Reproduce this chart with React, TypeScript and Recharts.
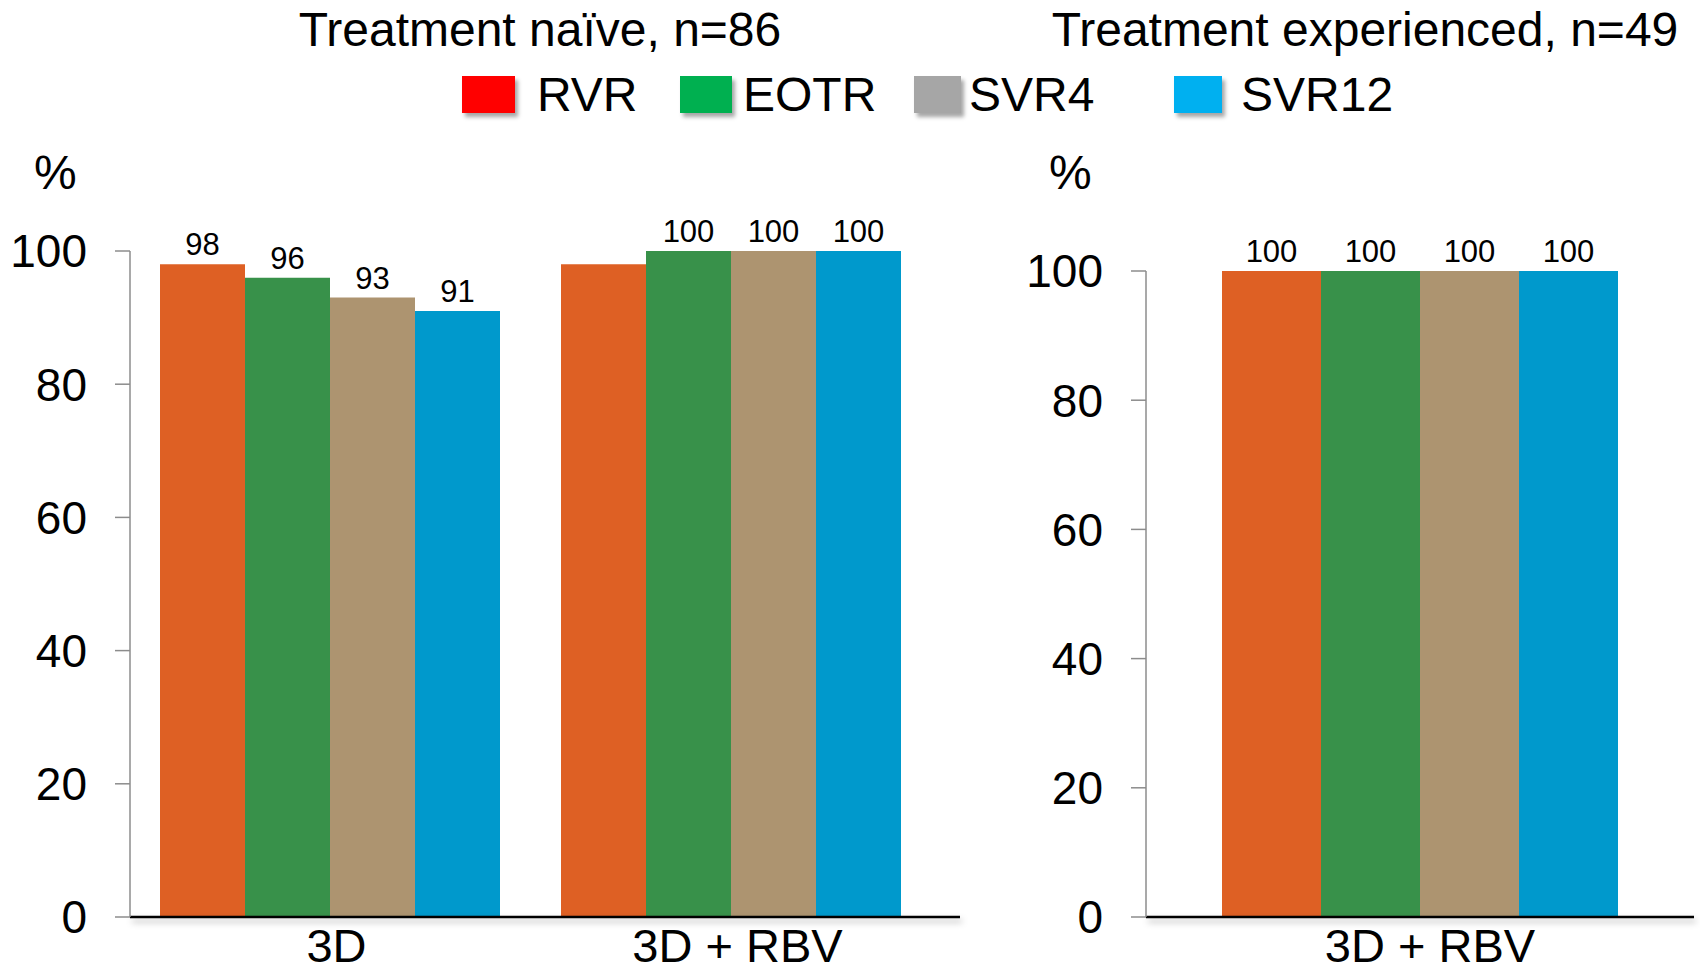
import React from 'react';
import { BarChart, Bar, XAxis, YAxis, LabelList } from 'recharts';

// series shared by both panels
const seriesNames = ['RVR', 'EOTR', 'SVR4', 'SVR12'];
const legendColors = ['#FF0000', '#00B050', '#A6A6A6', '#00B0F0'];
const barColors = ['#DE6024', '#38914A', '#AD9470', '#0099CC'];

// left panel
const naiveTitle = 'Treatment naïve, n=86';
const naiveCategories = ['3D', '3D + RBV'];
const naiveRVR = [98, 98];
const naiveEOTR = [96, 100];
const naiveSVR4 = [93, 100];
const naiveSVR12 = [91, 100];
const naiveRVRLabelShown = [true, false];

// right panel
const expTitle = 'Treatment experienced, n=49';
const expCategories = ['3D + RBV'];
const expRVR = [100];
const expEOTR = [100];
const expSVR4 = [100];
const expSVR12 = [100];

const yTicks = [0, 20, 40, 60, 80, 100];

const FONT = '"Liberation Sans", Arial, sans-serif';

const buildRows = (
  cats: string[],
  rvr: number[],
  eotr: number[],
  svr4: number[],
  svr12: number[],
  rvrShown?: boolean[]
) =>
  cats.map((name, i) => ({
    name,
    RVR: rvr[i],
    EOTR: eotr[i],
    SVR4: svr4[i],
    SVR12: svr12[i],
    RVRLabel: !rvrShown || rvrShown[i] ? rvr[i] : '',
    EOTRLabel: eotr[i],
    SVR4Label: svr4[i],
    SVR12Label: svr12[i],
  }));

const naiveData = buildRows(naiveCategories, naiveRVR, naiveEOTR, naiveSVR4, naiveSVR12, naiveRVRLabelShown);
const expData = buildRows(expCategories, expRVR, expEOTR, expSVR4, expSVR12);

interface PanelProps {
  id: string;
  data: any[];
  width: number;
  top: number;
  right: number;
  yAxisWidth: number;
  padRight: number;
  gap: number;
  labelDx: number;
}

const Panel: React.FC<PanelProps> = ({ id, data, width, top, right, yAxisWidth, padRight, gap, labelDx }) => (
  <BarChart
    width={width}
    height={972}
    data={data}
    margin={{ top, right, bottom: 0, left: 0 }}
    barCategoryGap={gap}
    barGap={0}
    style={{ fontFamily: FONT }}
  >
    <defs>
      <filter id={id} filterUnits="userSpaceOnUse" x="0" y="880" width={width} height="70">
        <feDropShadow dx="2" dy="4" stdDeviation="3" floodColor="#000" floodOpacity="0.3" />
      </filter>
    </defs>
    <XAxis
      dataKey="name"
      interval={0}
      height={55}
      tickLine={false}
      tickSize={0}
      tickMargin={12}
      padding={{ left: 0, right: padRight }}
      axisLine={{ stroke: '#000', strokeWidth: 2.5, filter: `url(#${id})` }}
      tick={{ fontSize: 47, fill: '#000', fontFamily: FONT, dx: labelDx }}
    />
    <YAxis
      type="number"
      domain={[0, 100]}
      ticks={yTicks}
      interval={0}
      width={yAxisWidth}
      tickSize={15}
      tickMargin={28}
      axisLine={{ stroke: '#8c8c8c', strokeWidth: 1.5 }}
      tickLine={{ stroke: '#8c8c8c', strokeWidth: 1.5 }}
      tick={{ fontSize: 46, fill: '#000', fontFamily: FONT }}
    />
    {seriesNames.map((s, i) => (
      <Bar key={s} dataKey={s} fill={barColors[i]} isAnimationActive={false}>
        <LabelList
          dataKey={`${s}Label`}
          position="top"
          offset={9}
          style={{ fontSize: 31, fill: '#000', fontFamily: FONT }}
        />
      </Bar>
    ))}
  </BarChart>
);

const legendLayout = [
  { swatch: 462, w: 53, text: 537 },
  { swatch: 680, w: 52, text: 743 },
  { swatch: 914, w: 47, text: 969 },
  { swatch: 1174, w: 48, text: 1241 },
];

export default function App() {
  return (
    <div
      style={{
        position: 'absolute',
        left: 0,
        top: 0,
        width: 1700,
        height: 972,
        background: '#fff',
        fontFamily: FONT,
        color: '#000',
        overflow: 'hidden',
      }}
    >
      <div style={{ position: 'absolute', left: 240, width: 600, top: 6, fontSize: 48, lineHeight: 1, textAlign: 'center' }}>
        {naiveTitle}
      </div>
      <div style={{ position: 'absolute', left: 1015, width: 700, top: 6, fontSize: 48, lineHeight: 1, textAlign: 'center' }}>
        {expTitle}
      </div>

      {seriesNames.map((s, i) => (
        <React.Fragment key={s}>
          <div
            style={{
              position: 'absolute',
              left: legendLayout[i].swatch,
              top: 76,
              width: legendLayout[i].w,
              height: 37,
              background: legendColors[i],
              boxShadow: '3px 4px 4px rgba(0,0,0,0.35)',
            }}
          />
          <div style={{ position: 'absolute', left: legendLayout[i].text, top: 71, fontSize: 48, lineHeight: 1 }}>
            {s}
          </div>
        </React.Fragment>
      ))}

      <div style={{ position: 'absolute', left: 34, top: 149, fontSize: 48, lineHeight: 1 }}>%</div>
      <div style={{ position: 'absolute', left: 1049, top: 149, fontSize: 48, lineHeight: 1 }}>%</div>

      <div style={{ position: 'absolute', left: 0, top: 0 }}>
        <Panel id="xShadowL" data={naiveData} width={1000} top={251} right={40} yAxisWidth={130} padRight={28} gap={30} labelDx={6} />
      </div>
      <div style={{ position: 'absolute', left: 1000, top: 0 }}>
        <Panel id="xShadowR" data={expData} width={700} top={271} right={6} yAxisWidth={146} padRight={0} gap={76} labelDx={10} />
      </div>
    </div>
  );
}
